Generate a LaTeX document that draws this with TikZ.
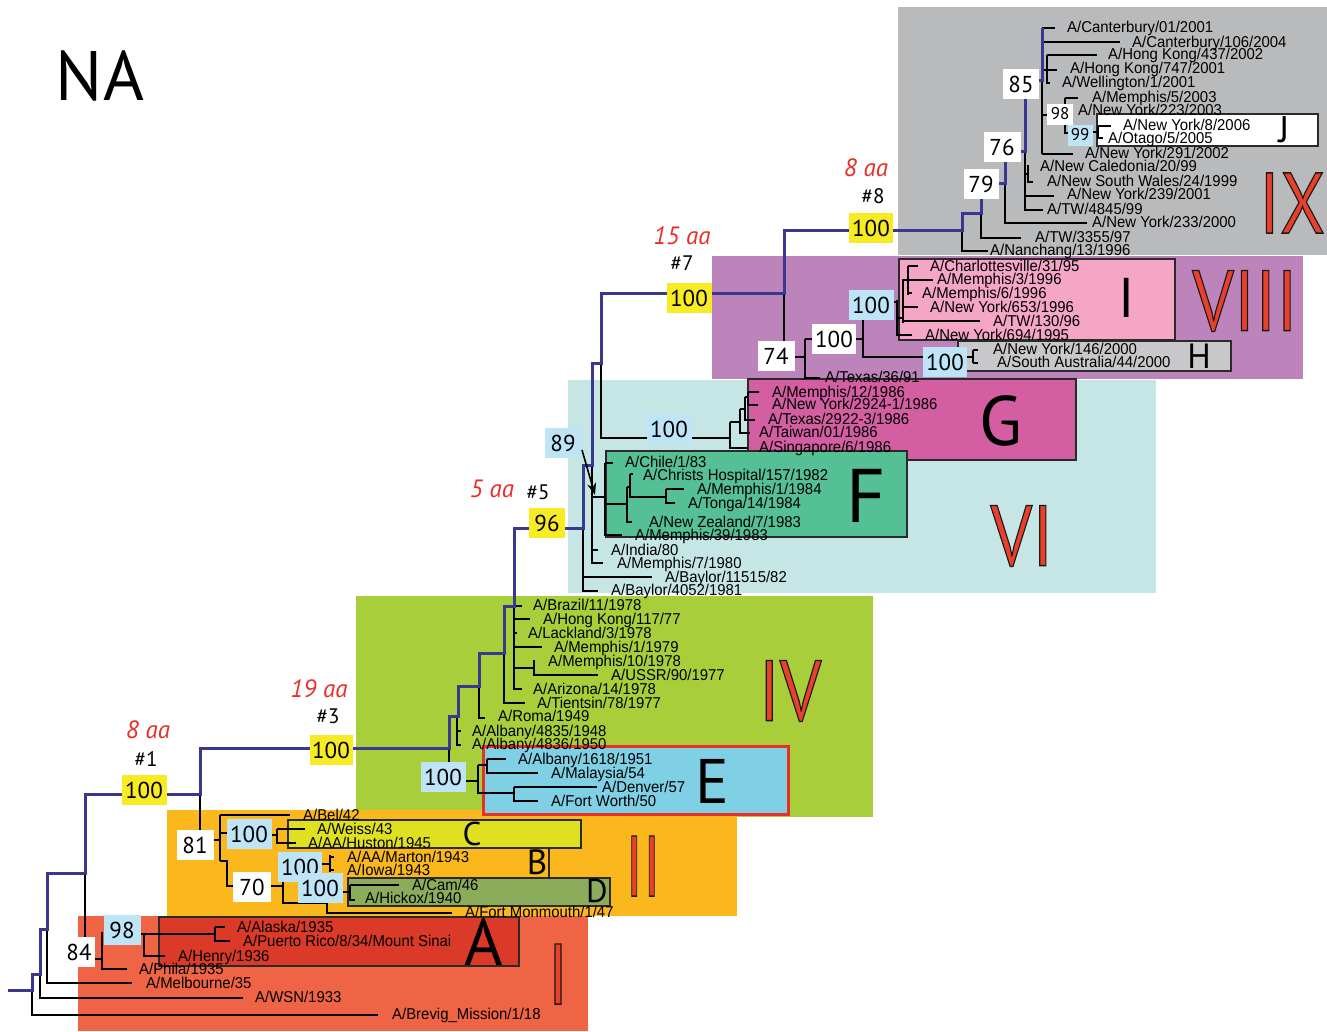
\documentclass[tikz,border=0pt]{standalone}
\usepackage{fontspec}
\setmainfont[FakeStretch=0.95]{Liberation Sans}
\newfontfamily\numf{PT Sans}
\usetikzlibrary{arrows.meta}
\definecolor{cIX}{HTML}{B9BABC}
\definecolor{cVIII}{HTML}{BD84BC}
\definecolor{cVI}{HTML}{C6E6E5}
\definecolor{cIV}{HTML}{A8CF3A}
\definecolor{cII}{HTML}{FBB81C}
\definecolor{cI}{HTML}{EF6445}
\definecolor{cA}{HTML}{DA3A27}
\definecolor{cC}{HTML}{DFE120}
\definecolor{cD}{HTML}{8BAC5A}
\definecolor{cE}{HTML}{7FD0E4}
\definecolor{cF}{HTML}{55BF96}
\definecolor{cG}{HTML}{D45EA2}
\definecolor{cPk}{HTML}{F5A6C5}
\definecolor{cH}{HTML}{C8C8CA}
\definecolor{ylw}{HTML}{F7EC23}
\definecolor{lbl}{HTML}{BEE5F7}
\definecolor{bbc}{HTML}{3A3790}
\definecolor{redt}{HTML}{E8302A}
\definecolor{romred}{HTML}{E8402A}
\definecolor{boxc}{HTML}{2A2A2A}
\tikzset{
  br/.style={line width=1.1pt, black},
  bbone/.style={line width=3pt, bbc, line join=miter},
  lf/.style={anchor=base west, inner sep=0pt, font=\fontsize{15.7}{15.7}\selectfont},
  cbox/.style={draw=boxc, line width=2.5pt},
  bsn/.style={inner sep=0pt, minimum height=30, font=\numf\fontsize{23}{23}\selectfont},
  wbx/.style={bsn, fill=white},
  lbx/.style={bsn, fill=lbl},
  ybx/.style={bsn, fill=ylw},
  smallnum/.style={font=\numf\fontsize{17}{17}\selectfont, minimum height=21},
  clet/.style={inner sep=0pt, font=\numf\fontsize{#1}{#1}\selectfont},
  romf/.style={inner sep=0pt, text=romred, font=\numf\fontsize{86}{86}\selectfont},
  anno/.style={inner sep=0pt, font=\numf\fontsize{21}{21}\selectfont},
  aared/.style={inner sep=0pt, text=redt, font=\numf\itshape\fontsize{25}{25}\selectfont}
}
\newcommand{\outlinedtext}[2]{\special{pdf:literal direct 2 Tr 1.3 w 0.1 0.1 0.1 RG}\scalebox{#2}[1]{#1}\special{pdf:literal direct 0 Tr}}
\begin{document}
\begin{tikzpicture}[x=1pt,y=-1pt]
\path[use as bounding box, fill=white] (0,0) rectangle (1327,1031);
% region backgrounds
\fill[cIX] (898,7) rectangle (1327,255);
\fill[cVIII] (712,256) rectangle (1303,379);
\fill[cVI] (568,380) rectangle (1156,593);
\fill[cIV] (356,596) rectangle (873,817);
\fill[cII] (167,810) rectangle (737,916);
\fill[cI] (78,916) rectangle (588,1031);
% clade boxes
\draw[cbox, fill=white] (1097,114) rectangle (1318,146);
\draw[cbox, fill=cPk] (899,259) rectangle (1175,340);
\draw[cbox, fill=cH] (958,341) rectangle (1231,371);
\draw[cbox, fill=cG] (748,379) rectangle (1076,460);
\draw[cbox, fill=cF] (606,451) rectangle (907,537);
\draw[line width=3pt, draw=redt, fill=cE] (483,746) rectangle (788,814);
\draw[cbox, fill=cC] (288,820) rectangle (581,848);
\draw[cbox] (327,848) -- (549,848) -- (549,878);
\draw[cbox, fill=cD] (348,878) rectangle (610,906);
\draw[cbox, fill=cA] (159,917) rectangle (519,966);
% ---------- branches: IX
\draw[br] (1042,78) -- (1042,154);
\draw[br] (1042,28) -- (1055,28);
\draw[br] (1042,42) -- (1120,42);
\draw[br] (1042,70) -- (1057,70);
\draw[br] (1047,55) -- (1047,83) -- (1050,83);
\draw[br] (1047,55) -- (1097,55);
\draw[br] (1042,115) -- (1047,115);
\draw[br] (1065,98) -- (1065,133) -- (1068,133);
\draw[br] (1065,98) -- (1078,98);
\draw[br] (1098,126) -- (1098,138) -- (1103,138);
\draw[br] (1093,132) -- (1098,132);
\draw[br] (1098,126) -- (1111,126);
\draw[br] (1042,154) -- (1073,154);
\draw[br] (1025,151) -- (1025,210) -- (1043,210);
\draw[br] (1025,174) -- (1028,174);
\draw[br] (1028,165) -- (1028,182) -- (1033,182);
\draw[br] (1025,196) -- (1054,196);
\draw[br] (1005,183) -- (1005,223) -- (1087,223);
\draw[br] (981,213) -- (981,238) -- (1021,238);
\draw[br] (962,230) -- (962,251) -- (988,251);
% ---------- VIII
\draw[br] (784,293) -- (784,357) -- (805,357);
\draw[br] (805,339) -- (805,378) -- (820,378);
\draw[br] (805,339) -- (812,339);
\draw[br] (856,339) -- (863,339);
\draw[br] (863,319) -- (863,357) -- (923,357);
\draw[br] (894,302) -- (897,302);
\draw[br] (897,300) -- (897,336);
\draw[br] (897,335) -- (912,335);
\draw[br] (897,318) -- (903,318);
\draw[br] (903,279) -- (903,323);
\draw[br] (903,307) -- (918,307);
\draw[br] (903,321) -- (980,321);
\draw[br] (903,280) -- (933,280);
\draw[br] (908,266) -- (908,295);
\draw[br] (908,266) -- (918,266);
\draw[br] (908,293) -- (912,293);
\draw[br] (967,357) -- (973,357);
\draw[br] (973,350) -- (973,363);
\draw[br] (973,350) -- (978,350);
\draw[br] (973,363) -- (978,363);
% ---------- G
\draw[br] (601,363) -- (601,438) -- (730,438);
\draw[br] (730,422) -- (730,448) -- (748,448);
\draw[br] (730,422) -- (740,422);
\draw[br] (740,409) -- (740,433) -- (750,433);
\draw[br] (740,409) -- (745,409);
\draw[br] (745,397) -- (745,420) -- (755,420);
\draw[br] (745,397) -- (748,397);
\draw[br] (748,392) -- (748,405) -- (758,405);
\draw[br] (748,392) -- (759,392);
% ---------- F and VI
\draw[br] (583,528) -- (583,591) -- (598,591);
\draw[br] (583,577) -- (652,577);
\draw[br] (592,465) -- (592,563) -- (603,563);
\draw[br] (592,550) -- (598,550);
\draw[br] (592,497) -- (606,497);
\draw[br] (605,463) -- (605,535) -- (622,535);
\draw[br] (605,463) -- (613,463);
\draw[br] (605,504) -- (627,504);
\draw[br] (627,487) -- (627,522) -- (632,522);
\draw[br] (627,487) -- (630,487);
\draw[br] (630,474) -- (630,497) -- (666,497);
\draw[br] (630,474) -- (633,474);
\draw[br] (666,489) -- (666,504);
\draw[br] (666,489) -- (684,489);
\draw[br] (666,503) -- (675,503);
% ---------- IV
\draw[br] (449,748) -- (449,762);
\draw[br] (466,781) -- (478,781);
\draw[br] (478,765) -- (478,793) -- (514,793);
\draw[br] (478,765) -- (487,765);
\draw[br] (487,759) -- (487,773) -- (538,773);
\draw[br] (487,759) -- (506,759);
\draw[br] (514,787) -- (514,802);
\draw[br] (514,787) -- (597,787);
\draw[br] (514,801) -- (538,801);
\draw[br] (457,716) -- (457,746);
\draw[br] (457,731) -- (461,731);
\draw[br] (457,745) -- (461,745);
\draw[br] (479,686) -- (479,718) -- (485,718);
\draw[br] (504,653) -- (504,703) -- (525,703);
\draw[br] (514,606) -- (514,690);
\draw[br] (514,606) -- (522,606);
\draw[br] (514,619) -- (530,619);
\draw[br] (514,633) -- (517,633);
\draw[br] (514,647) -- (542,647);
\draw[br] (514,668) -- (534,668);
\draw[br] (534,660) -- (534,675) -- (598,675);
\draw[br] (514,689) -- (522,689);
% ---------- II
\draw[br] (200,794) -- (200,830);
\draw[br] (214,840) -- (220,840);
\draw[br] (220,815) -- (220,861);
\draw[br] (220,815) -- (290,815);
\draw[br] (220,833) -- (228,833);
\draw[br] (272,835) -- (277,835);
\draw[br] (277,829) -- (277,843) -- (296,843);
\draw[br] (277,829) -- (305,829);
\draw[br] (220,861) -- (227,861) -- (227,886) -- (233,886);
\draw[br] (271,886) -- (283,886);
\draw[br] (283,870) -- (283,903) -- (327,903) -- (327,913) -- (452,913);
\draw[br] (322,864) -- (330,864);
\draw[br] (330,855) -- (330,872);
\draw[br] (330,857) -- (334,857);
\draw[br] (330,870) -- (334,870);
\draw[br] (343,892) -- (350,892);
\draw[br] (350,885) -- (350,900) -- (355,900);
\draw[br] (350,885) -- (399,885);
% ---------- I
\draw[br] (32,974) -- (32,1015) -- (378,1015);
\draw[br] (40,974) -- (40,998) -- (243,998);
\draw[br] (47,929) -- (47,983) -- (132,983);
\draw[br] (85,873) -- (85,937);
\draw[br] (95,959) -- (102,959);
\draw[br] (102,932) -- (102,969) -- (127,969);
\draw[br] (141,934) -- (144,934);
\draw[br] (144,934) -- (144,956) -- (165,956);
\draw[br] (144,934) -- (215,934);
\draw[br] (215,927) -- (215,941) -- (230,941);
\draw[br] (215,927) -- (225,927);
% ---------- backbone
\draw[bbone] (8,990) -- (32,990) -- (32,974) -- (40,974) -- (40,929) -- (47,929) -- (47,873) -- (85,873) -- (85,794) -- (200,794) -- (200,748) -- (449,748) -- (449,716) -- (458,716) -- (458,686) -- (479,686) -- (479,653) -- (504,653) -- (504,606) -- (514,606) -- (514,528) -- (583,528) -- (583,465) -- (592,465) -- (592,363) -- (601,363) -- (601,293) -- (784,293) -- (784,230) -- (962,230) -- (962,213) -- (981,213) -- (981,183) -- (1005,183) -- (1005,151) -- (1025,151) -- (1025,80) -- (1042,80) -- (1042,28);
% arrow for 89
\coordinate (arS) at (582,450);
\coordinate (arE) at (595,495);
\draw[line width=1.6pt, -{Stealth[length=12pt,width=9pt]}] (arS) -- (arE);
% ---------- bootstrap boxes
\node[wbx, minimum width=36] (b85) at (1021,84) {85};
\node[wbx, smallnum, minimum width=26] (b98a) at (1060,114) {98};
\node[lbx, smallnum, minimum width=25] (b99) at (1080,135) {99};
\node[wbx, minimum width=37] (b76) at (1002,147) {76};
\node[wbx, minimum width=35] (b79) at (981,184) {79};
\node[ybx, minimum width=44] (y8) at (871,228) {100};
\node[lbx, minimum width=45] (bI) at (871,305) {100};
\node[wbx, minimum width=44] (b100w) at (834,339) {100};
\node[wbx, minimum width=37] (b74) at (776,356) {74};
\node[lbx, minimum width=44] (bH) at (945,362) {100};
\node[ybx, minimum width=45] (y7) at (689,298) {100};
\node[lbx, minimum width=45] (bG) at (669,429) {100};
\node[lbx, minimum width=36] (b89) at (563,443) {89};
\node[ybx, minimum width=36] (y5) at (547,523) {96};
\node[ybx, minimum width=43] (y3) at (331,750) {100};
\node[lbx, minimum width=45] (bE) at (443,777) {100};
\node[ybx, minimum width=45] (y1) at (144,790) {100};
\node[wbx, minimum width=37] (b81) at (195,845) {81};
\node[lbx, minimum width=45] (bC) at (249,834) {100};
\node[lbx, minimum width=44] (bB) at (300,867) {100};
\node[wbx, minimum width=38] (b70) at (252,887) {70};
\node[lbx, minimum width=45] (bD) at (320,888) {100};
\node[lbx, minimum width=37] (b98) at (122,930) {98};
\node[wbx, minimum width=32] (b84) at (79,952) {84};
% ---------- leaf labels
\node[lf] (t1) at (1067,32) {A/Canterbury/01/2001};
\node[lf] (t2) at (1132,47) {A/Canterbury/106/2004};
\node[lf] (t3) at (1108,59) {A/Hong Kong/437/2002};
\node[lf] (t4) at (1070,73) {A/Hong Kong/747/2001};
\node[lf] (t5) at (1062,87) {A/Wellington/1/2001};
\node[lf] (t6) at (1092,102) {A/Memphis/5/2003};
\node[lf] (t7) at (1078,115) {A/New York/223/2003};
\node[lf] (t8) at (1123,130) {A/New York/8/2006};
\node[lf] (t9) at (1108,143) {A/Otago/5/2005};
\node[lf] (t10) at (1085,158) {A/New York/291/2002};
\node[lf] (t11) at (1040,171) {A/New Caledonia/20/99};
\node[lf] (t12) at (1047,186) {A/New South Wales/24/1999};
\node[lf] (t13) at (1067,199) {A/New York/239/2001};
\node[lf] (t14) at (1047,214) {A/TW/4845/99};
\node[lf] (t15) at (1092,227) {A/New York/233/2000};
\node[lf] (t16) at (1035,242) {A/TW/3355/97};
\node[lf] (t17) at (990,255) {A/Nanchang/13/1996};
\node[lf] (t18) at (930,271) {A/Charlottesville/31/95};
\node[lf] (t19) at (937,284) {A/Memphis/3/1996};
\node[lf] (t20) at (922,298) {A/Memphis/6/1996};
\node[lf] (t21) at (930,312) {A/New York/653/1996};
\node[lf] (t22) at (993,326) {A/TW/130/96};
\node[lf] (t23) at (925,340) {A/New York/694/1995};
\node[lf] (t24) at (993,354) {A/New York/146/2000};
\node[lf] (t25) at (997,367) {A/South Australia/44/2000};
\node[lf] (t26) at (825,382) {A/Texas/36/91};
\node[lf] (t27) at (772,397) {A/Memphis/12/1986};
\node[lf] (t28) at (772,409) {A/New York/2924-1/1986};
\node[lf] (t29) at (768,424) {A/Texas/2922-3/1986};
\node[lf] (t30) at (759,437) {A/Taiwan/01/1986};
\node[lf] (t31) at (759,452) {A/Singapore/6/1986};
\node[lf] (t32) at (625,467) {A/Chile/1/83};
\node[lf] (t33) at (643,480) {A/Christs Hospital/157/1982};
\node[lf] (t34) at (697,494) {A/Memphis/1/1984};
\node[lf] (t35) at (688,508) {A/Tonga/14/1984};
\node[lf] (t36) at (649,527) {A/New Zealand/7/1983};
\node[lf] (t37) at (635,540) {A/Memphis/39/1983};
\node[lf] (t38) at (611,555) {A/India/80};
\node[lf] (t39) at (617,568) {A/Memphis/7/1980};
\node[lf] (t40) at (665,582) {A/Baylor/11515/82};
\node[lf] (t41) at (611,595) {A/Baylor/4052/1981};
\node[lf] (t42) at (533,610) {A/Brazil/11/1978};
\node[lf] (t43) at (543,624) {A/Hong Kong/117/77};
\node[lf] (t44) at (528,638) {A/Lackland/3/1978};
\node[lf] (t45) at (554,652) {A/Memphis/1/1979};
\node[lf] (t46) at (548,666) {A/Memphis/10/1978};
\node[lf] (t47) at (611,680) {A/USSR/90/1977};
\node[lf] (t48) at (533,694) {A/Arizona/14/1978};
\node[lf] (t49) at (537,708) {A/Tientsin/78/1977};
\node[lf] (t50) at (498,721) {A/Roma/1949};
\node[lf] (t51) at (472,736) {A/Albany/4835/1948};
\node[lf] (t52) at (472,749) {A/Albany/4836/1950};
\node[lf] (t53) at (518,764) {A/Albany/1618/1951};
\node[lf] (t54) at (551,778) {A/Malaysia/54};
\node[lf] (t55) at (602,792) {A/Denver/57};
\node[lf] (t56) at (551,806) {A/Fort Worth/50};
\node[lf] (t57) at (303,820) {A/Bel/42};
\node[lf] (t58) at (317,834) {A/Weiss/43};
\node[lf] (t59) at (308,848) {A/AA/Huston/1945};
\node[lf] (t60) at (347,862) {A/AA/Marton/1943};
\node[lf] (t61) at (347,875) {A/Iowa/1943};
\node[lf] (t62) at (412,890) {A/Cam/46};
\node[lf] (t63) at (365,903) {A/Hickox/1940};
\node[lf] (t64) at (465,917) {A/Fort Monmouth/1/47};
\node[lf] (t65) at (237,932) {A/Alaska/1935};
\node[lf] (t66) at (243,946) {A/Puerto Rico/8/34/Mount Sinai};
\node[lf] (t67) at (178,961) {A/Henry/1936};
\node[lf] (t68) at (139,974) {A/Phila/1935};
\node[lf] (t69) at (146,988) {A/Melbourne/35};
\node[lf] (t70) at (255,1002) {A/WSN/1933};
\node[lf] (t71) at (392,1019) {A/Brevig\_Mission/1/18};
% ---------- clade letters
\node[clet=37] (LJ) at (1284,130) {J};
\node[clet=56] (LI) at (1127,298) {I};
\node[clet=35] (LH) at (1199,356) {H};
\node[clet=70] (LG) at (1001,421) {G};
\node[clet=76] (LF) at (866,496) {F};
\node[clet=63] (LE) at (712,781) {E};
\node[clet=33] (LC) at (472,834) {C};
\node[clet=35] (LB) at (537,862) {B};
\node[clet=33] (LD) at (597,891) {D};
\node[clet=66] (LA) at (484,942) {A};
% ---------- roman numerals
\node[romf] (rIX) at (1292,203) {\outlinedtext{IX}{0.85}};
\node[romf] (rVIII) at (1245,301) {\outlinedtext{VIII}{0.85}};
\node[romf] (rVI) at (1022,536) {\outlinedtext{VI}{0.85}};
\node[romf] (rIV) at (790,691) {\outlinedtext{IV}{0.85}};
\node[romf] (rII) at (643,866) {\outlinedtext{II}{0.7}};
\node[romf] (rI) at (558,974) {\outlinedtext{I}{0.85}};
% ---------- annotations
\node[inner sep=0pt, font=\numf\fontsize{70}{70}\selectfont] (NA) at (100,76) {NA};
\node[aared] (a8) at (866,168) {8 aa};
\node[anno] (h8) at (873,196) {\#8};
\node[aared] (a15) at (682,236) {15 aa};
\node[anno] (h7) at (682,263) {\#7};
\node[aared] (a5) at (492,489) {5 aa};
\node[anno] (h5) at (538,492) {\#5};
\node[aared] (a19) at (319,689) {19 aa};
\node[anno] (h3) at (328,716) {\#3};
\node[aared] (a8b) at (148,730) {8 aa};
\node[anno] (h1) at (146,759) {\#1};
\end{tikzpicture}
\end{document}
